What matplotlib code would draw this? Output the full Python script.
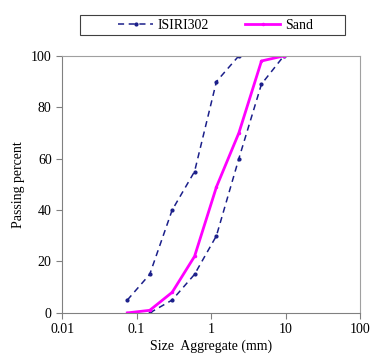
import matplotlib
matplotlib.use("Agg")
import matplotlib.pyplot as plt
from matplotlib.patches import Rectangle

plt.rcParams['font.family'] = ['Liberation Serif', 'DejaVu Serif']
plt.rcParams['font.size'] = 10

# ISIRI302 grading limits (sieve size mm, passing %)
isiri_upper_size = [0.075, 0.15, 0.3, 0.6, 1.18, 2.36]
isiri_upper_pass = [5, 15, 40, 55, 90, 100]
isiri_lower_size = [0.15, 0.3, 0.6, 1.18, 2.36, 4.75, 9.5]
isiri_lower_pass = [0, 5, 15, 30, 60, 89, 100]

# sand gradation
sand_size = [0.075, 0.15, 0.3, 0.6, 1.18, 2.36, 4.75, 9.5]
sand_pass = [0, 1, 8, 22, 49, 70, 98, 100]

fig = plt.figure(figsize=(3.7, 3.58), dpi=100)
ax = fig.add_axes([0.168, 0.126, 0.805, 0.718])

ax.plot(isiri_upper_size, isiri_upper_pass, color="#1b1f8a", ls=(0, (4, 3)), lw=1.1,
	marker="o", ms=2, label="ISIRI302")
ax.plot(isiri_lower_size, isiri_lower_pass, color="#1b1f8a", ls=(0, (4, 3)), lw=1.1,
	marker="o", ms=2)
ax.plot(sand_size, sand_pass, color="#ff00ff", lw=2, marker="o", ms=1.5, label="Sand")

ax.set_xscale("log")
ax.set_xlim(0.01, 100)
ax.set_ylim(0, 100)
ax.set_yticks([0, 20, 40, 60, 80, 100])
ax.set_xticks([0.01, 0.1, 1, 10, 100])
ax.set_xticklabels(["0.01", "0.1", "1", "10", "100"])
ax.minorticks_off()
ax.tick_params(direction="out", length=4, color="#808080")

for s in ["top", "right"]:
	ax.spines[s].set_color("#a0a0a0")
for s in ["left", "bottom"]:
	ax.spines[s].set_color("#808080")

ax.set_xlabel("Size  Aggregate (mm)", labelpad=2)
ax.set_ylabel("Passing percent", labelpad=4)

# legend box drawn separately so it can be wider than the entries
fig.patches.append(Rectangle((80/370, 1-35/358), 265/370, 20/358, transform=fig.transFigure,
	fill=False, edgecolor="#404040", lw=0.8))
fig.legend(loc="center", bbox_to_anchor=(0.583, 0.93), ncol=2, frameon=False,
	handlelength=2.5, columnspacing=2.6, handletextpad=0.35)

plt.savefig("out.png")
plt.close()
